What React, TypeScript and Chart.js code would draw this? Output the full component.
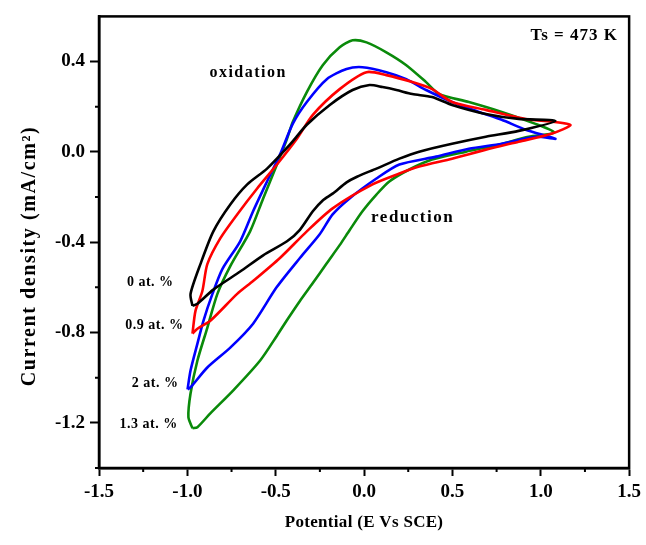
import React, { useEffect, useRef } from 'react';
import { Chart, registerables } from 'chart.js';

Chart.register(...registerables);

const FONT = '"Liberation Serif", "Times New Roman", serif';

const X_TICKS = [-1.5, -1.25, -1.0, -0.75, -0.5, -0.25, 0, 0.25, 0.5, 0.75, 1.0, 1.25, 1.5];
const Y_TICKS = [-1.4, -1.2, -1.0, -0.8, -0.6, -0.4, -0.2, 0, 0.2, 0.4];

const SERIES_NAMES = ['0 at. %', '0.9 at. %', '2 at. %', '1.3 at. %'];
const SERIES_COLORS = ['#000000', '#ff0000', '#0000ff', '#0a8a0a'];

const black_x = [-0.971, -0.982, -0.926, -0.853, -0.757, -0.661, -0.549, -0.420, -0.324, -0.194, -0.065, 0.031, 0.104, 0.183, 0.273, 0.385, 0.498, 0.689, 0.875, 1.083, 0.875, 0.689, 0.498, 0.312, 0.200, 0.070, -0.040, -0.099, -0.178, -0.234, -0.290, -0.363, -0.436, -0.571, -0.701, -0.853, -0.943, -0.971];
const black_y = [-0.682, -0.629, -0.497, -0.352, -0.233, -0.144, -0.074, 0.032, 0.120, 0.208, 0.274, 0.296, 0.287, 0.274, 0.256, 0.243, 0.208, 0.168, 0.146, 0.137, 0.093, 0.067, 0.036, 0.001, -0.030, -0.074, -0.110, -0.135, -0.185, -0.215, -0.263, -0.345, -0.396, -0.458, -0.530, -0.610, -0.673, -0.682];

const red_x = [-0.971, -0.954, -0.915, -0.887, -0.813, -0.718, -0.605, -0.493, -0.380, -0.290, -0.138, 0.014, 0.126, 0.273, 0.385, 0.498, 0.689, 0.914, 1.167, 1.060, 0.875, 0.689, 0.498, 0.312, 0.200, 0.048, -0.178, -0.324, -0.476, -0.628, -0.718, -0.870, -0.943, -0.971];
const red_y = [-0.805, -0.704, -0.616, -0.497, -0.382, -0.277, -0.162, -0.056, 0.058, 0.164, 0.278, 0.353, 0.340, 0.309, 0.278, 0.221, 0.186, 0.146, 0.120, 0.080, 0.045, 0.010, -0.030, -0.065, -0.096, -0.144, -0.250, -0.352, -0.470, -0.572, -0.629, -0.748, -0.783, -0.805];

const blue_x = [-0.999, -0.982, -0.943, -0.909, -0.858, -0.802, -0.701, -0.628, -0.549, -0.476, -0.403, -0.324, -0.211, -0.099, -0.009, 0.126, 0.239, 0.351, 0.498, 0.650, 0.779, 0.914, 1.083, 0.970, 0.779, 0.593, 0.408, 0.200, 0.070, -0.082, -0.178, -0.251, -0.363, -0.495, -0.628, -0.757, -0.887, -0.982, -0.999];
const blue_y = [-1.052, -0.968, -0.849, -0.748, -0.629, -0.519, -0.396, -0.263, -0.131, -0.012, 0.125, 0.221, 0.322, 0.367, 0.375, 0.353, 0.322, 0.274, 0.221, 0.177, 0.142, 0.098, 0.058, 0.067, 0.036, 0.014, -0.021, -0.056, -0.118, -0.206, -0.277, -0.365, -0.470, -0.600, -0.761, -0.867, -0.955, -1.043, -1.052];

const green_x = [-0.971, -0.994, -0.982, -0.943, -0.887, -0.830, -0.757, -0.645, -0.571, -0.493, -0.436, -0.403, -0.324, -0.234, -0.138, -0.065, 0.014, 0.126, 0.239, 0.351, 0.425, 0.593, 0.779, 0.970, 1.077, 0.931, 0.762, 0.577, 0.385, 0.256, 0.143, 0.070, -0.009, -0.082, -0.138, -0.211, -0.290, -0.363, -0.431, -0.493, -0.588, -0.740, -0.870, -0.943, -0.971];
const green_y = [-1.224, -1.175, -1.070, -0.924, -0.779, -0.629, -0.506, -0.352, -0.206, -0.056, 0.058, 0.133, 0.265, 0.384, 0.463, 0.494, 0.485, 0.441, 0.384, 0.309, 0.256, 0.221, 0.177, 0.124, 0.085, 0.067, 0.032, 0.001, -0.034, -0.078, -0.131, -0.189, -0.263, -0.347, -0.413, -0.493, -0.581, -0.660, -0.739, -0.814, -0.924, -1.056, -1.158, -1.219, -1.224];

const SERIES_X = [black_x, red_x, blue_x, green_x];
const SERIES_Y = [black_y, red_y, blue_y, green_y];

// annotation labels: [text, x, y, align, size, letterSpacing]
const NOTES: [string, number, number, CanvasTextAlign, number, number][] = [
  ['oxidation', -0.656, 0.349, 'center', 16, 1.5],
  ['reduction', 0.275, -0.29, 'center', 17, 1.5],
  ['Ts = 473 K', 1.437, 0.516, 'right', 17, 1],
  [SERIES_NAMES[0], -1.078, -0.576, 'right', 14, 0.5],
  [SERIES_NAMES[1], -1.022, -0.77, 'right', 14, 0.5],
  [SERIES_NAMES[2], -1.05, -1.026, 'right', 14, 0.5],
  [SERIES_NAMES[3], -1.055, -1.205, 'right', 14, 0.5],
];

const isMajor = (v: number, step: number) => Math.abs(v / step - Math.round(v / step)) < 1e-6;

const decorPlugin = {
  id: 'decor',
  afterDraw(chart: any) {
    const { ctx, chartArea, scales } = chart;
    const { left, right, top, bottom } = chartArea;
    ctx.save();
    ctx.strokeStyle = '#000';
    ctx.lineWidth = 2.5;
    ctx.strokeRect(left, top, right - left, bottom - top);
    // minor ticks
    ctx.lineWidth = 2;
    ctx.beginPath();
    X_TICKS.filter((v) => !isMajor(v, 0.5)).forEach((v) => {
      const px = scales.x.getPixelForValue(v);
      ctx.moveTo(px, bottom);
      ctx.lineTo(px, bottom + 4);
    });
    Y_TICKS.filter((v) => !isMajor(v, 0.4)).forEach((v) => {
      const py = scales.y.getPixelForValue(v);
      ctx.moveTo(left, py);
      ctx.lineTo(left - 4, py);
    });
    ctx.stroke();
    // annotations
    ctx.fillStyle = '#000';
    ctx.textBaseline = 'middle';
    NOTES.forEach(([t, x, y, align, size, ls]) => {
      ctx.font = `bold ${size}px ${FONT}`;
      (ctx as any).letterSpacing = `${ls}px`;
      ctx.textAlign = align;
      ctx.fillText(t, scales.x.getPixelForValue(x), scales.y.getPixelForValue(y));
    });
    (ctx as any).letterSpacing = '0px';
    // axis titles
    ctx.font = `bold 17px ${FONT}`;
    (ctx as any).letterSpacing = '0.3px';
    ctx.textAlign = 'center';
    ctx.fillText('Potential (E Vs SCE)', (left + right) / 2, 523);
    ctx.save();
    ctx.translate(30, 256);
    ctx.rotate(-Math.PI / 2);
    ctx.font = `bold 20px ${FONT}`;
    (ctx as any).letterSpacing = '1.6px';
    ctx.fillText('Current density (mA/cm\u00B2)', 0, 0);
    ctx.restore();
    ctx.restore();
  },
};

export default function App() {
  const ref = useRef<HTMLCanvasElement>(null);
  useEffect(() => {
    const datasets = SERIES_NAMES.map((name, i) => ({
      label: name,
      data: SERIES_X[i].map((x, j) => ({ x, y: SERIES_Y[i][j] })),
      showLine: true,
      borderColor: SERIES_COLORS[i],
      backgroundColor: SERIES_COLORS[i],
      borderWidth: 2.6,
      pointRadius: 0,
      tension: 0.25,
      fill: false,
    }));
    const chart = new Chart(ref.current as HTMLCanvasElement, {
      type: 'scatter',
      data: { datasets },
      options: {
        animation: false,
        responsive: false,
        maintainAspectRatio: false,
        devicePixelRatio: 1,
        layout: { padding: { top: 14, right: 15, left: 0, bottom: 0 } },
        plugins: { legend: { display: false }, tooltip: { enabled: false } },
        scales: {
          x: {
            type: 'linear',
            min: -1.5,
            max: 1.5,
            afterBuildTicks: (s: any) => {
              s.ticks = X_TICKS.map((v) => ({ value: v }));
            },
            afterFit: (s: any) => {
              s.height = 77;
            },
            ticks: {
              color: '#000',
              font: { family: FONT, size: 19, weight: 'bold' },
              padding: 5,
              maxRotation: 0,
              autoSkip: false,
              callback: (v: any) => (isMajor(Number(v), 0.5) ? Number(v).toFixed(1) : ''),
            },
            grid: {
              display: true,
              drawOnChartArea: false,
              drawTicks: true,
              tickLength: 8,
              tickWidth: 2,
              tickColor: (c: any) => (c.tick && isMajor(c.tick.value, 0.5) ? '#000' : 'rgba(0,0,0,0)'),
            },
            border: { display: true, color: '#000', width: 2.5 },
          },
          y: {
            type: 'linear',
            min: -1.4,
            max: 0.6,
            afterBuildTicks: (s: any) => {
              s.ticks = Y_TICKS.map((v) => ({ value: v }));
            },
            afterFit: (s: any) => {
              s.width = 99;
            },
            ticks: {
              color: '#000',
              font: { family: FONT, size: 19, weight: 'bold' },
              padding: 5,
              autoSkip: false,
              callback: (v: any) => (isMajor(Number(v), 0.4) ? Number(v).toFixed(1) : ''),
            },
            grid: {
              display: true,
              drawOnChartArea: false,
              drawTicks: true,
              tickLength: 9,
              tickWidth: 2,
              tickColor: (c: any) => (c.tick && isMajor(c.tick.value, 0.4) ? '#000' : 'rgba(0,0,0,0)'),
            },
            border: { display: true, color: '#000', width: 2.5 },
          },
        },
      },
      plugins: [decorPlugin],
    } as any);
    return () => chart.destroy();
  }, []);
  return (
    <div style={{ position: 'absolute', left: 0, top: 0, width: 646, height: 545, background: '#fff' }}>
      <canvas ref={ref} width={646} height={545} style={{ width: 646, height: 545, display: 'block' }} />
    </div>
  );
}
